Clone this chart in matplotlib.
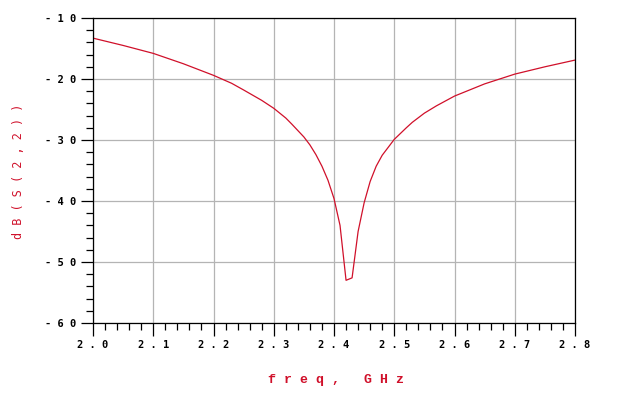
import matplotlib
matplotlib.use("Agg")
import matplotlib.pyplot as plt
from matplotlib.ticker import MultipleLocator, FixedLocator

freq = [2.00, 2.05, 2.10, 2.15, 2.20, 2.23, 2.25, 2.28, 2.30, 2.32, 2.33, 2.35,
        2.36, 2.37, 2.38, 2.39, 2.40, 2.41, 2.42, 2.43, 2.44, 2.45, 2.46, 2.47,
        2.48, 2.50, 2.52, 2.53, 2.55, 2.57, 2.60, 2.65, 2.70, 2.75, 2.80]
s22_db = [-13.3, -14.5, -15.8, -17.5, -19.4, -20.7, -21.8, -23.5, -24.8, -26.4,
          -27.4, -29.5, -30.8, -32.4, -34.3, -36.6, -39.6, -44.0, -53.0, -52.6,
          -45.0, -40.3, -36.8, -34.3, -32.5, -29.9, -28.0, -27.1, -25.6, -24.4,
          -22.8, -20.8, -19.2, -18.0, -16.9]

x_ticks = [2.0, 2.1, 2.2, 2.3, 2.4, 2.5, 2.6, 2.7, 2.8]
y_ticks = [-60, -50, -40, -30, -20, -10]

def spaced(s):
    return " ".join(s)

fig = plt.figure(figsize=(6.17, 3.98), dpi=100)
ax = fig.add_axes([93/617, 1-323/398, (575-93)/617, (323-18)/398])

ax.plot(freq, s22_db, color="#d0102a", lw=0.9)

ax.set_xlim(2.0, 2.8)
ax.set_ylim(-60, -10)
ax.xaxis.set_major_locator(FixedLocator(x_ticks))
ax.yaxis.set_major_locator(FixedLocator(y_ticks))
ax.xaxis.set_minor_locator(MultipleLocator(0.02))
ax.yaxis.set_minor_locator(MultipleLocator(2))
ax.set_xticklabels([spaced(f"{v:.1f}") for v in x_ticks])
ax.set_yticklabels([spaced(f"{v:d}") for v in y_ticks])

ax.grid(True, which="major", color="#b4b4b4", lw=0.9)
ax.set_axisbelow(True)
for sp in ax.spines.values():
    sp.set_linewidth(0.9)
    sp.set_color("black")

ax.tick_params(which="major", direction="out", length=9, width=0.9, pad=3,
               labelsize=7.5, color="black")
ax.tick_params(which="minor", direction="out", length=5, width=0.9, color="black")
for lab in ax.get_xticklabels() + ax.get_yticklabels():
    lab.set_family("DejaVu Sans Mono")
    lab.set_fontweight("bold")

fig.text(19/617, 1-171/398, spaced("dB(S(2,2))"), rotation=90, color="#d0102a",
         family="DejaVu Sans Mono", fontsize=8.5, ha="center", va="center")
fig.text(336/617, 1-380/398, spaced("freq,") + "   " + spaced("GHz"), color="#d0102a",
         family="Liberation Mono", fontweight="bold", fontsize=9.5,
         ha="center", va="center")

fig.savefig("out.png", dpi=100)
